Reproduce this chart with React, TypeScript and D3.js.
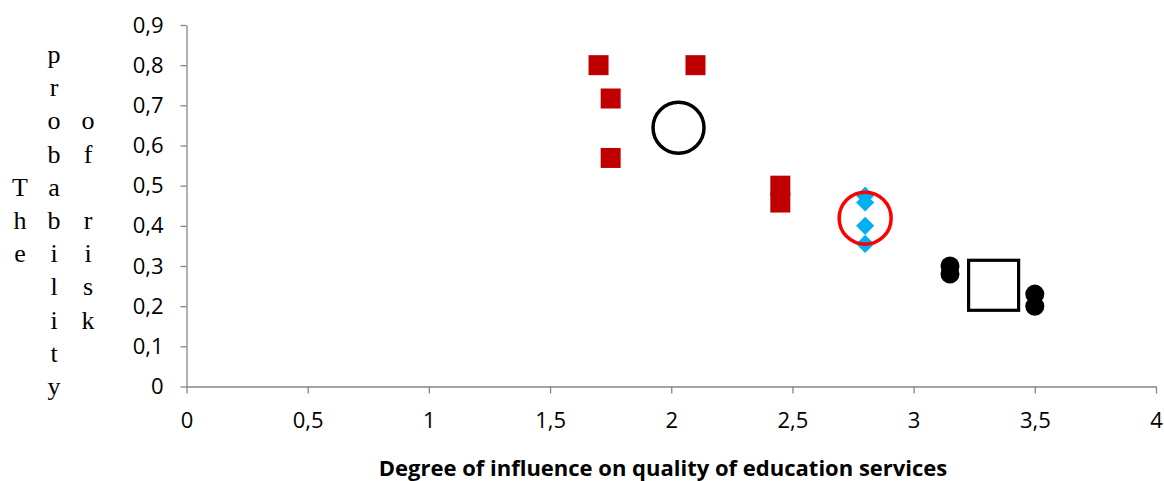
import React, { useEffect, useRef } from 'react';
import * as d3 from 'd3';

// values
const redSquareX = [1.7, 2.1, 1.75, 1.75, 2.45, 2.45];
const redSquareY = [0.8, 0.8, 0.717, 0.569, 0.5, 0.458];
const blueDiamondX = [2.8, 2.8, 2.8, 2.8];
const blueDiamondY = [0.475, 0.458, 0.4, 0.355];
const blackDotX = [3.15, 3.15, 3.5, 3.5];
const blackDotY = [0.3, 0.28, 0.23, 0.2];
// highlighted group centres
const openCircle = [2.03, 0.644];
const redRing = [2.8, 0.419];
const openSquare = [3.33, 0.252];

const xTicks = [0, 0.5, 1, 1.5, 2, 2.5, 3, 3.5, 4];
const yTicks = [0, 0.1, 0.2, 0.3, 0.4, 0.5, 0.6, 0.7, 0.8, 0.9];
const xTitle = 'Degree of influence on quality of education services';
const yTitleWords = ['The', 'probability', 'of risk'];

const W = 1164;
const H = 481;
const axisColor = '#868686';
const fmt = (d: number) => String(d).replace('.', ',');

const App: React.FC = () => {
  const ref = useRef<SVGSVGElement>(null);

  useEffect(() => {
    if (!ref.current) return;
    const svg = d3.select(ref.current);
    svg.selectAll('*').remove();

    const x = d3.scaleLinear().domain([0, 4]).range([186.5, 1156]);
    const y = d3.scaleLinear().domain([0, 0.9]).range([386.5, 25]);

    // y axis
    const yAxis = svg.append('g')
      .attr('transform', `translate(${x(0)},0)`)
      .call(d3.axisLeft(y).tickValues(yTicks).tickFormat(d => fmt(d as number)).tickSize(6).tickSizeOuter(0).tickPadding(17));
    // x axis
    const xAxis = svg.append('g')
      .attr('transform', `translate(0,${y(0)})`)
      .call(d3.axisBottom(x).tickValues(xTicks).tickFormat(d => fmt(d as number)).tickSize(7).tickSizeOuter(0).tickPadding(19));

    [yAxis, xAxis].forEach(a => {
      a.selectAll('path, line').attr('stroke', axisColor).attr('stroke-width', 1.3);
      a.selectAll('text')
        .attr('fill', '#000')
        .style('font-family', '"Open Sans", sans-serif')
        .style('font-size', '22px');
    });

    // red squares
    svg.append('g').selectAll('rect')
      .data(redSquareX.map((v, i) => [v, redSquareY[i]]))
      .enter().append('rect')
      .attr('x', d => x(d[0]) - 10)
      .attr('y', d => y(d[1]) - 10)
      .attr('width', 20)
      .attr('height', 20)
      .attr('fill', '#C00000');

    // blue diamonds
    const diamond = d3.symbol().type(d3.symbolSquare).size(165);
    svg.append('g').selectAll('path')
      .data(blueDiamondX.map((v, i) => [v, blueDiamondY[i]]))
      .enter().append('path')
      .attr('d', diamond)
      .attr('transform', d => `translate(${x(d[0])},${y(d[1])}) rotate(45)`)
      .attr('fill', '#00B0F0');

    // black dots
    svg.append('g').selectAll('circle')
      .data(blackDotX.map((v, i) => [v, blackDotY[i]]))
      .enter().append('circle')
      .attr('cx', d => x(d[0]))
      .attr('cy', d => y(d[1]))
      .attr('r', 9.5)
      .attr('fill', '#000');

    // group outlines
    svg.append('circle')
      .attr('cx', x(openCircle[0])).attr('cy', y(openCircle[1])).attr('r', 25.5)
      .attr('fill', 'none').attr('stroke', '#000').attr('stroke-width', 3.5);
    svg.append('circle')
      .attr('cx', x(redRing[0])).attr('cy', y(redRing[1])).attr('r', 26)
      .attr('fill', 'none').attr('stroke', '#FF0000').attr('stroke-width', 3.5);
    svg.append('rect')
      .attr('x', x(openSquare[0]) - 25).attr('y', y(openSquare[1]) - 25)
      .attr('width', 50).attr('height', 50)
      .attr('fill', 'none').attr('stroke', '#000').attr('stroke-width', 3.2);

    // x title
    svg.append('text')
      .attr('x', 663)
      .attr('y', 476)
      .attr('text-anchor', 'middle')
      .style('font-family', '"Open Sans", sans-serif')
      .style('font-weight', 'bold')
      .style('font-size', '22px')
      .text(xTitle);

    // y title: letters stacked, one column per word
    const rows = d3.max(yTitleWords, w => w.length) as number;
    const colX = [20, 54, 88];
    const yt = svg.append('g')
      .style('font-family', '"Liberation Serif", "Times New Roman", serif')
      .style('font-size', '26px');
    yTitleWords.forEach((word, c) => {
      const start = Math.floor((rows - word.length) / 2);
      word.split('').forEach((ch, i) => {
        if (ch === ' ') return;
        yt.append('text')
          .attr('x', colX[c])
          .attr('y', 63 + (start + i) * 33.2)
          .attr('text-anchor', 'middle')
          .text(ch);
      });
    });
  }, []);

  return (
    <svg ref={ref} width={W} height={H}
      style={{ position: 'absolute', left: 0, top: 0, background: '#fff' }} />
  );
};

export default App;
